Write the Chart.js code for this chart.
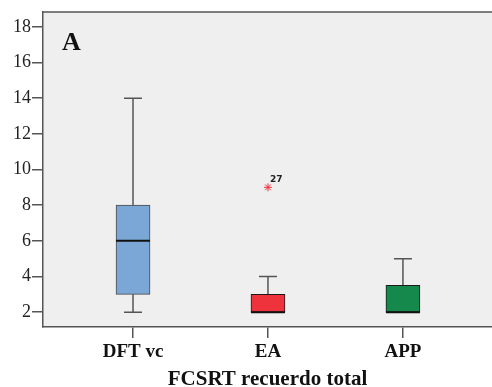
<!DOCTYPE html>
<html lang="es">
<head>
<meta charset="UTF-8">
<title>FCSRT recuerdo total</title>
<style>
  body { margin: 0; background: #fff; }
  #grafico { display: block; }
</style>
</head>
<body>
<canvas id="grafico" width="492" height="387"></canvas>
<script src="https://cdn.jsdelivr.net/npm/chart.js"></script>
<script>
  // datos (diagrama de cajas)
  const grupos = ['DFT vc', 'EA', 'APP'];
  const minimos = [2, 2, 2];
  const q1 = [3, 2, 2];
  const medianas = [6, 2, 2];
  const q3 = [8, 3, 3.5];
  const maximos = [14, 4, 5];
  const atipicos = [{ grupo: 1, valor: 9, caso: '27' }];
  const ticksY = [2, 4, 6, 8, 10, 12, 14, 16, 18];

  const colores = ['#7aa7d6', '#ee333d', '#15894b'];
  const bordes = ['#4a4a4a', '#1a1a1a', '#1a1a1a'];
  const ejeColor = '#555';

  Chart.defaults.font.family = "'Liberation Serif', serif";

  // fondo gris del área y borde superior + letra "A"
  const fondo = {
    id: 'fondo',
    beforeDraw(chart) {
      const { ctx, chartArea: a } = chart;
      ctx.save();
      ctx.fillStyle = '#efefef';
      ctx.fillRect(a.left, a.top, a.right - a.left, a.bottom - a.top);
      ctx.restore();
    },
    afterDraw(chart) {
      const { ctx, chartArea: a } = chart;
      ctx.save();
      ctx.strokeStyle = ejeColor;
      ctx.lineWidth = 1.5;
      ctx.beginPath();
      ctx.moveTo(a.left, a.top);
      ctx.lineTo(a.right, a.top);
      ctx.stroke();
      ctx.fillStyle = '#111';
      ctx.font = "bold 26px 'Liberation Serif', serif";
      ctx.textBaseline = 'alphabetic';
      ctx.fillText('A', a.left + 19, a.top + 38);
      ctx.restore();
    }
  };

  // bigotes, medianas y etiqueta del atípico
  const bigotes = {
    id: 'bigotes',
    beforeDatasetsDraw(chart) {
      const { ctx, scales: { x, y } } = chart;
      ctx.save();
      ctx.strokeStyle = ejeColor;
      ctx.lineWidth = 1.5;
      grupos.forEach((g, i) => {
        const cx = x.getPixelForValue(i);
        ctx.beginPath();
        ctx.moveTo(cx, y.getPixelForValue(q3[i]));
        ctx.lineTo(cx, y.getPixelForValue(maximos[i]));
        ctx.moveTo(cx, y.getPixelForValue(q1[i]));
        ctx.lineTo(cx, y.getPixelForValue(minimos[i]));
        ctx.moveTo(cx - 9, y.getPixelForValue(maximos[i]));
        ctx.lineTo(cx + 9, y.getPixelForValue(maximos[i]));
        ctx.moveTo(cx - 9, y.getPixelForValue(minimos[i]));
        ctx.lineTo(cx + 9, y.getPixelForValue(minimos[i]));
        ctx.stroke();
      });
      ctx.restore();
    },
    afterDatasetsDraw(chart) {
      const { ctx, scales: { x, y } } = chart;
      ctx.save();
      ctx.strokeStyle = '#111';
      ctx.lineWidth = 2;
      grupos.forEach((g, i) => {
        const cx = x.getPixelForValue(i);
        const my = y.getPixelForValue(medianas[i]);
        ctx.beginPath();
        ctx.moveTo(cx - 17, my);
        ctx.lineTo(cx + 17, my);
        ctx.stroke();
      });
      ctx.fillStyle = '#222';
      ctx.font = "bold 9px 'DejaVu Sans', sans-serif";
      atipicos.forEach(o => {
        ctx.fillText(o.caso, x.getPixelForValue(o.grupo) + 2, y.getPixelForValue(o.valor) - 5);
      });
      ctx.restore();
    }
  };

  new Chart(document.getElementById('grafico').getContext('2d'), {
    type: 'bar',
    data: {
      datasets: [{
        data: grupos.map((g, i) => ({ x: i, y: [q1[i], q3[i]] })),
        backgroundColor: colores,
        borderColor: bordes,
        borderWidth: 1,
        borderSkipped: false,
        barThickness: 34
      }, {
        type: 'scatter',
        data: atipicos.map(o => ({ x: o.grupo, y: o.valor })),
        pointStyle: 'star',
        radius: 4,
        borderColor: '#ee333d',
        borderWidth: 1
      }]
    },
    options: {
      responsive: false,
      animation: false,
      layout: { autoPadding: false, padding: { top: 12, right: 0, left: 0, bottom: 0 } },
      plugins: {
        legend: { display: false },
        tooltip: { enabled: false }
      },
      scales: {
        x: {
          type: 'linear',
          offset: false,
          min: -0.667,
          max: 2.66,
          afterBuildTicks: s => { s.ticks = grupos.map((g, i) => ({ value: i })); },
          afterFit: s => { s.height = 60; s.paddingLeft = 0; s.paddingRight = 0; },
          ticks: {
            callback: v => grupos[v],
            font: { size: 19, weight: 'bold' },
            color: '#111',
            padding: 3,
            maxRotation: 0
          },
          grid: { offset: false, drawOnChartArea: false, tickLength: 11, color: ejeColor, lineWidth: 1.5 },
          border: { color: ejeColor, width: 1.5 },
          title: {
            display: true,
            text: 'FCSRT recuerdo total',
            color: '#111',
            font: { size: 21, weight: 'bold', lineHeight: 1 },
            padding: { top: 0, bottom: -3 }
          }
        },
        y: {
          type: 'linear',
          min: 1.17,
          max: 18.83,
          afterBuildTicks: s => { s.ticks = ticksY.map(v => ({ value: v })); },
          afterFit: s => { s.width = 43; s.paddingTop = 0; s.paddingBottom = 0; },
          ticks: {
            font: { size: 18 },
            color: '#222',
            padding: 1
          },
          grid: { drawOnChartArea: false, tickLength: 11, color: ejeColor, lineWidth: 1.5 },
          border: { color: ejeColor, width: 1.5 }
        }
      }
    },
    plugins: [fondo, bigotes]
  });
</script>
</body>
</html>
